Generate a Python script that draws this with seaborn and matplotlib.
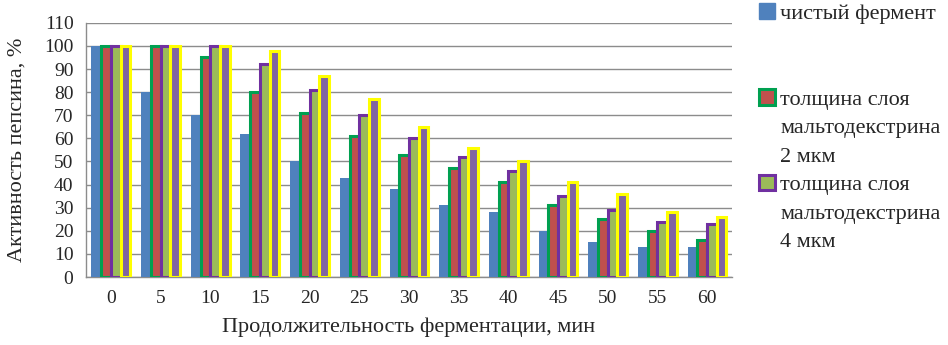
import pandas as pd
import matplotlib
matplotlib.use("Agg")
import matplotlib.pyplot as plt
from matplotlib.patches import Patch
import seaborn as sns

# --- данные ---
minutes = [0, 5, 10, 15, 20, 25, 30, 35, 40, 45, 50, 55, 60]
clean_enzyme = [100, 80, 70, 62, 50, 43, 38, 31, 28, 20, 15, 13, 13]
layer_2um = [100, 100, 95, 80, 71, 61, 53, 47, 41, 31, 25, 20, 16]
layer_4um = [100, 100, 100, 92, 81, 70, 60, 52, 46, 35, 29, 24, 23]
layer_6um = [100, 100, 100, 98, 87, 77, 65, 56, 50, 41, 36, 28, 26]

series_names = ["чистый фермент",
                "толщина слоя мальтодекстрина 2 мкм",
                "толщина слоя мальтодекстрина 4 мкм",
                "толщина слоя мальтодекстрина 6 мкм"]
fill_colors = ["#4F81BD", "#C0504D", "#9BBB59", "#8064A2"]
edge_colors = ["#4F81BD", "#00A050", "#7030A0", "#FFFF00"]

rows = []
for name, vals in zip(series_names, [clean_enzyme, layer_2um, layer_4um, layer_6um]):
    for m, v in zip(minutes, vals):
        rows.append({"мин": str(m), "серия": name, "активность": v})
df = pd.DataFrame(rows)

# --- рисунок ---
sns.set_style("white")
plt.rcParams["font.family"] = ["Liberation Serif", "DejaVu Serif"]

fig = plt.figure(figsize=(9.48, 3.45), dpi=100)
ax = fig.add_axes([0.0907, 0.197, 0.6813, 0.737])

sns.barplot(data=df, x="мин", y="активность", hue="серия",
            hue_order=series_names, order=[str(m) for m in minutes],
            palette=fill_colors, saturation=1, width=0.78, dodge=True, gap=0,
            legend=False, ax=ax, zorder=3)

for cont, ec, fc in zip(ax.containers, edge_colors, fill_colors):
    for bar in cont:
        bar.set_edgecolor(ec)
        bar.set_linewidth(0 if ec == fc else 2.2)

ax.set_ylim(0, 110)
ax.set_xlim(-0.5, len(minutes) - 0.5)
ax.set_yticks(range(0, 111, 10))
ax.yaxis.grid(True, color="#8c8c8c", linewidth=1.0, zorder=0)
ax.set_axisbelow(True)

for side in ["top", "right"]:
    ax.spines[side].set_visible(False)
for side in ["left", "bottom"]:
    ax.spines[side].set_color("#8c8c8c")
    ax.spines[side].set_linewidth(1.0)

# деления между категориями, как в Excel
ax.set_xticks([i - 0.5 for i in range(len(minutes) + 1)], minor=True)
ax.tick_params(axis="x", which="major", length=0, pad=9, labelsize=14)
ax.tick_params(axis="x", which="minor", length=5, color="#8c8c8c", direction="out")
ax.tick_params(axis="y", length=5, color="#8c8c8c", direction="out", labelsize=14, pad=4)

ax.set_xlabel("Продолжительность ферментации, мин", fontsize=16, labelpad=8)
ax.set_ylabel("Активность пепсина, %", fontsize=16, labelpad=13)

# легенда: строки по одной, чтобы значок стоял у первой строки
blank = Patch(facecolor="none", edgecolor="none")
handles = [
    Patch(facecolor=fill_colors[0], edgecolor=fill_colors[0]), blank, blank,
    Patch(facecolor=fill_colors[1], edgecolor=edge_colors[1], linewidth=2.2), blank, blank,
    Patch(facecolor=fill_colors[2], edgecolor=edge_colors[2], linewidth=2.2), blank, blank,
]
labels = ["чистый фермент", "", "",
          "толщина слоя", "мальтодекстрина", "2 мкм",
          "толщина слоя", "мальтодекстрина", "4 мкм"]
fig.legend(handles, labels, loc="upper left", bbox_to_anchor=(0.801, 0.99),
           frameon=False, fontsize=16, handlelength=0.7, handleheight=0.7,
           handletextpad=0.25, labelspacing=0.36, borderpad=0, borderaxespad=0)

fig.savefig("out.png", dpi=100)
